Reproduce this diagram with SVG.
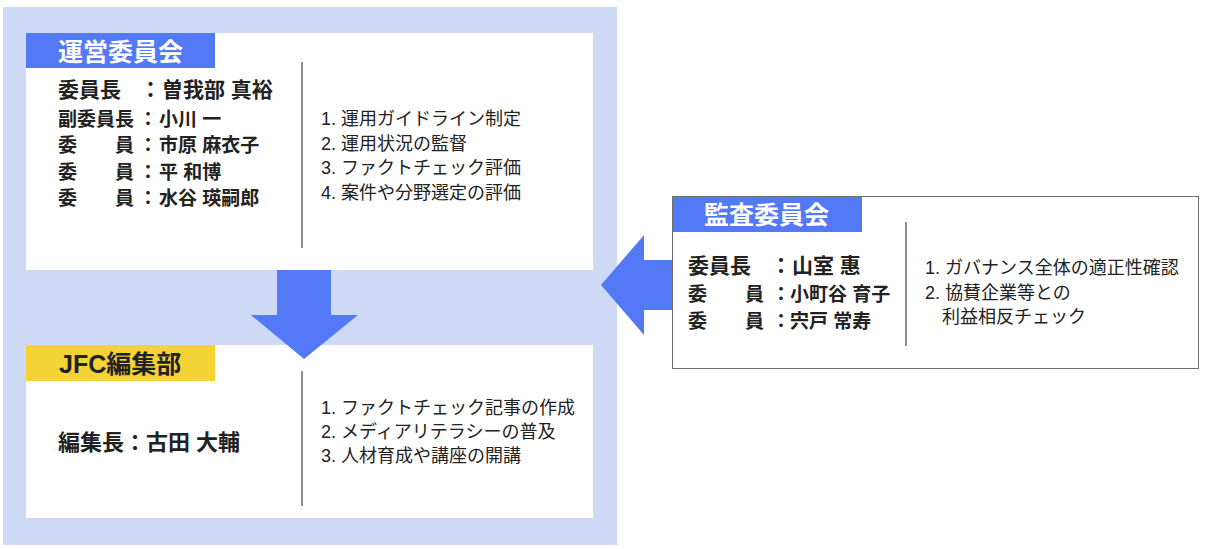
<svg xmlns="http://www.w3.org/2000/svg" width="1205" height="549" viewBox="0 0 1205 549">
  <style>
    text { font-family: "Liberation Sans", "Noto Sans CJK JP", sans-serif; fill: #222222; }
    .tab { font-size: 25px; font-weight: bold; fill: #ffffff; }
    .tabdark { font-size: 25px; font-weight: bold; fill: #222222; }
    .chair { font-size: 21px; font-weight: bold; }
    .mem { font-size: 19px; font-weight: bold; }
    .head { font-size: 22px; font-weight: bold; }
    .list { font-size: 18px; }
    .box { fill: #ffffff; }
    .divider { stroke: #444444; stroke-width: 1.2; }
    .bluetab { fill: #5479F7; }
    .arrow { fill: #5479F7; }
  </style>

  <g id="container">
    <rect x="3" y="7" width="614" height="538" fill="#CED9F5"/>
  </g>

  <g id="unei-iinkai">
    <rect class="box" x="26" y="33" width="567" height="237"/>
    <rect class="bluetab" x="26" y="33" width="189" height="35"/>
    <text class="tab" x="58" y="61">運営委員会</text>
    <line class="divider" x1="302" y1="62" x2="302" y2="248"/>
    <text class="chair" y="97"><tspan x="58">委員長</tspan><tspan x="140">：</tspan><tspan x="162">曽我部 真裕</tspan></text>
    <text class="mem" y="126"><tspan x="58">副委員長</tspan><tspan x="138.5">：</tspan><tspan x="159">小川 一</tspan></text>
    <text class="mem" y="152"><tspan x="58">委</tspan><tspan x="115">員</tspan><tspan x="138.5">：</tspan><tspan x="159">市原 麻衣子</tspan></text>
    <text class="mem" y="179"><tspan x="58">委</tspan><tspan x="115">員</tspan><tspan x="138.5">：</tspan><tspan x="159">平 和博</tspan></text>
    <text class="mem" y="205"><tspan x="58">委</tspan><tspan x="115">員</tspan><tspan x="138.5">：</tspan><tspan x="159">水谷 瑛嗣郎</tspan></text>
    <text class="list" x="321" y="125">1. 運用ガイドライン制定</text>
    <text class="list" x="321" y="150">2. 運用状況の監督</text>
    <text class="list" x="321" y="174">3. ファクトチェック評価</text>
    <text class="list" x="321" y="199">4. 案件や分野選定の評価</text>
  </g>

  <g id="jfc-henshubu">
    <rect class="box" x="26" y="345" width="567" height="173"/>
    <rect x="26" y="345" width="189" height="36" fill="#F4D435"/>
    <text class="tabdark" x="59" y="373">JFC編集部</text>
    <line class="divider" x1="302" y1="371" x2="302" y2="506"/>
    <text class="head" x="58" y="450">編集長：古田 大輔</text>
    <text class="list" x="321" y="414">1. ファクトチェック記事の作成</text>
    <text class="list" x="321" y="438">2. メディアリテラシーの普及</text>
    <text class="list" x="321" y="462">3. 人材育成や講座の開講</text>
  </g>

  <g id="kansa-iinkai">
    <rect class="box" x="672.5" y="196.5" width="526" height="172" stroke="#707070" stroke-width="1"/>
    <rect class="bluetab" x="673" y="197" width="189" height="35"/>
    <text class="tab" x="704" y="224">監査委員会</text>
    <line class="divider" x1="906" y1="222" x2="906" y2="346"/>
    <text class="chair" y="273"><tspan x="688">委員長</tspan><tspan x="770.5">：</tspan><tspan x="792">山室 惠</tspan></text>
    <text class="mem" y="301"><tspan x="688">委</tspan><tspan x="745">員</tspan><tspan x="771.5">：</tspan><tspan x="790">小町谷 育子</tspan></text>
    <text class="mem" y="328"><tspan x="688">委</tspan><tspan x="745">員</tspan><tspan x="771.5">：</tspan><tspan x="790">宍戸 常寿</tspan></text>
    <text class="list" x="925" y="274">1. ガバナンス全体の適正性確認</text>
    <text class="list" x="925" y="299">2. 協賛企業等との</text>
    <text class="list" x="942" y="323">利益相反チェック</text>
  </g>

  <g id="connectors">
    <polygon class="arrow" points="277,270 331,270 331,315 358,315 304,359 251,315 277,315"/>
    <polygon class="arrow" points="672,260 644,260 644,235 601,285 644,335 644,310 672,310"/>
  </g>
</svg>
